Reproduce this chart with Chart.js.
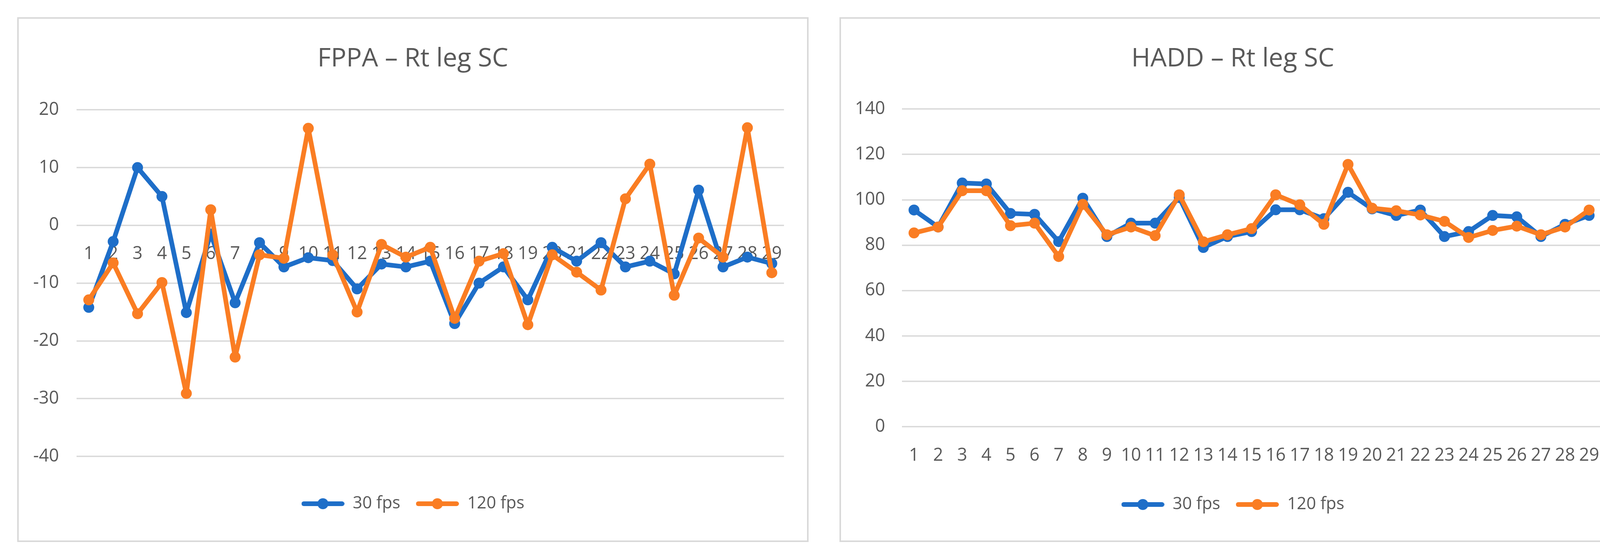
<!DOCTYPE html>
<html>
<head>
<meta charset="utf-8">
<title>FPPA / HADD / LTF – Rt leg SC</title>
<script src="https://cdn.jsdelivr.net/npm/chart.js@4.4.1/dist/chart.umd.min.js"></script>
<style>
  html, body { margin: 0; padding: 0; background: #fff; }
  body { width: 6425px; height: 1433px; position: relative; overflow: hidden; }
  .panel { position: absolute; top: 44px; height: 1335px; border: 4px solid #d9d9d9; background: #fff; }
  .panel canvas { display: block; }
</style>
</head>
<body>
<div class="panel" style="left:44px;width:2018px"><canvas id="fppa" width="2018" height="1335"></canvas></div>
<div class="panel" style="left:2149px;width:2006px"><canvas id="hadd" width="2006" height="1335"></canvas></div>
<div class="panel" style="left:4244px;width:2123px"><canvas id="ltf" width="2123" height="1335"></canvas></div>

<script>
// Datos (29 sujetos)
const trials = ['1','2','3','4','5','6','7','8','9','10','11','12','13','14','15','16','17','18','19','20','21','22','23','24','25','26','27','28','29'];
const seriesNames = ['30 fps', '120 fps'];

const fppa30  = [-14.2, -2.8, 10, 5, -15.1, -1.5, -13.4, -3, -7.2, -5.6, -6.1, -11, -6.7, -7.2, -6.2, -17, -10, -7.2, -12.9, -3.8, -6.2, -3, -7.2, -6.2, -8.4, 6.1, -7.2, -5.5, -6.6];
const fppa120 = [-12.9, -6.5, -15.3, -9.9, -29.1, 2.7, -22.8, -5.1, -5.7, 16.8, -5.1, -15, -3.3, -5.5, -3.8, -16.1, -6.2, -4.9, -17.2, -5.1, -8.1, -11.2, 4.6, 10.6, -12.1, -2.2, -5.5, 16.9, -8.2];

const hadd30  = [95.5, 88, 107.4, 107, 94, 93.6, 81.6, 100.7, 83.8, 89.7, 89.7, 101, 79, 83.8, 86, 95.6, 95.6, 91.7, 103.3, 96, 93.1, 95.5, 83.8, 86, 93.1, 92.5, 83.8, 89.2, 93.1];
const hadd120 = [85.4, 88, 104, 104, 88.6, 89.7, 75, 98, 84.6, 88, 84.2, 102.2, 81.5, 84.6, 87.3, 102.2, 97.8, 89.2, 115.6, 96.3, 95.2, 93.3, 90.5, 83.4, 86.5, 88.4, 84.6, 88, 95.5];

const ltf30  = [16.9, 19.6, 5.2, 3.7, 13.3, 17.9, 18.6, 12.3, 15.4, 21.4, 21.1, 12.9, 21, 15.5, 13.6, 7.6, 12.9, 22.6, 8.8, 11.7, 12.9, 16.2, 15.5, 13.5, 7.1, 10.6, 15.5, 21.4, 12.9];
const ltf120 = [18.9, 20, 12.9, 12.6, 17.9, 23.8, 30.2, 30.2, 27.7, 20.6, 26.8, 13.1, 15.7, 27.7, 12, 6.3, 12.3, 15.6, 0.7, 9.6, 15.2, 12, 14.6, 19.9, 6.5, 8.3, 27.7, 20.7, 15.2];

// Rangos del eje Y: [min, max, paso]
const fppaAxis = [-40, 20, 10];
const haddAxis = [0, 140, 20];
const ltfAxis  = [0, 35, 5];

const BLUE = '#1e6ec8';
const ORANGE = '#fa7d23';
const TEXT = '#595959';
const GRID = '#d9d9d9';

Chart.defaults.font.family = "'Open Sans', sans-serif";
Chart.defaults.color = TEXT;

// Icono de leyenda estilo Excel: línea con marcador
const legendIcon = (color) => {
    const c = document.createElement('canvas');
    c.width = 110; c.height = 32;
    const g = c.getContext('2d');
    g.strokeStyle = color;
    g.lineWidth = 12;
    g.lineCap = 'round';
    g.beginPath(); g.moveTo(6, 16); g.lineTo(104, 16); g.stroke();
    g.fillStyle = color;
    g.beginPath(); g.arc(55, 16, 14, 0, Math.PI * 2); g.fill();
    return c;
};

const makeChart = (id, title, a30, a120, axis, box) => {
    const [yMin, yMax, yStep] = axis;
    return new Chart(document.getElementById(id), {
        type: 'line',
        data: {
            labels: trials,
            datasets: [
                { label: seriesNames[0], data: a30, borderColor: BLUE, backgroundColor: BLUE,
                  pointBackgroundColor: BLUE, pointBorderColor: BLUE, order: 1 },
                { label: seriesNames[1], data: a120, borderColor: ORANGE, backgroundColor: ORANGE,
                  pointBackgroundColor: ORANGE, pointBorderColor: ORANGE, order: 0 }
            ]
        },
        options: {
            responsive: false,
            animation: false,
            devicePixelRatio: 1,
            layout: { padding: { left: 0, right: 0, top: 0, bottom: box.bottom } },
            elements: {
                line: { borderWidth: 12, tension: 0, borderCapStyle: 'round', borderJoinStyle: 'round' },
                point: { radius: 13, borderWidth: 2 }
            },
            scales: {
                x: {
                    type: 'category',
                    position: { y: 0 },
                    offset: true,
                    grid: { display: false, drawTicks: false },
                    border: { display: false },
                    ticks: { padding: 47, autoSkip: false, maxRotation: 0, font: { size: 45 }, color: TEXT }
                },
                y: {
                    min: yMin, max: yMax,
                    grid: { color: GRID, lineWidth: 3.5, drawTicks: false },
                    border: { display: false },
                    ticks: { stepSize: yStep, padding: box.yPad, font: { size: 45 }, color: TEXT },
                    afterFit: (s) => { s.width = box.left; }
                },
                // margen derecho vacío, para que título y leyenda queden centrados en el panel
                margin: {
                    type: 'linear',
                    position: 'right',
                    grid: { display: false, drawTicks: false },
                    border: { display: false },
                    ticks: { display: false },
                    afterFit: (s) => { s.width = box.right; }
                }
            },
            plugins: {
                tooltip: { enabled: false },
                title: {
                    display: true, text: title, color: TEXT,
                    font: { size: 66, weight: 'normal' },
                    padding: { top: 63.4, bottom: box.titleBottom }
                },
                legend: {
                    position: 'bottom',
                    title: { display: true, text: '', font: { size: 10, lineHeight: 1 }, padding: { top: box.gap - 10, bottom: 0 } },
                    labels: {
                        usePointStyle: true,
                        pointStyleWidth: 110,
                        padding: 40,
                        color: TEXT,
                        font: { size: 43 },
                        generateLabels: (chart) => chart.data.datasets.map((ds, i) => ({
                            text: ds.label,
                            datasetIndex: i,
                            pointStyle: legendIcon(ds.borderColor),
                            fillStyle: ds.borderColor,
                            strokeStyle: ds.borderColor,
                            lineWidth: 0,
                            fontColor: TEXT,
                            hidden: false
                        }))
                    }
                }
            }
        }
    });
};

const draw = () => {
    makeChart('fppa', 'FPPA – Rt leg SC', fppa30, fppa120, fppaAxis,
        { left: 148, right: 59, yPad: 45, titleBottom: 90.4, gap: 59.5, bottom: 62.5 });
    makeChart('hadd', 'HADD – Rt leg SC', hadd30, hadd120, haddAxis,
        { left: 156, right: 60, yPad: 43, titleBottom: 88.4, gap: 137.5, bottom: 60.5 });
    makeChart('ltf', 'LTF – Rt leg SC', ltf30, ltf120, ltfAxis,
        { left: 138, right: 67, yPad: 48, titleBottom: 86.4, gap: 137.5, bottom: 60.5 });
};

document.fonts.load('45px "Open Sans"').then(draw, draw);
</script>
</body>
</html>
